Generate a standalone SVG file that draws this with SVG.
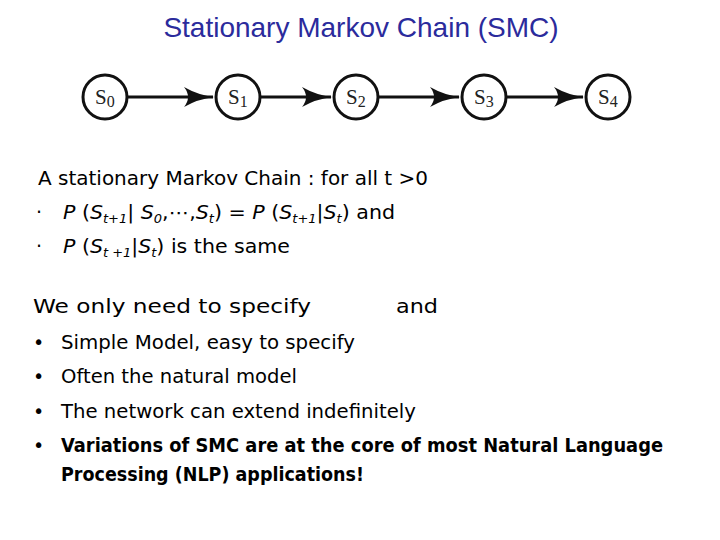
<svg xmlns="http://www.w3.org/2000/svg" width="720" height="540" viewBox="0 0 720 540">
<style>
.n{fill:#fff;stroke:#111;stroke-width:3}
.nl{font-family:"Liberation Serif",serif;font-size:21px;fill:#222}
.e{stroke:#111;stroke-width:3}
.t{font-family:"DejaVu Sans",sans-serif;font-size:19px;fill:#000}
.i{font-style:italic}
</style>
<defs><marker id="a" viewBox="0 0 30 20" refX="29" refY="10" markerWidth="30" markerHeight="20" markerUnits="userSpaceOnUse" orient="auto"><path d="M0,0 Q14,8 30,10 Q14,12 0,20 Q8,10 0,0 Z" fill="#111"/></marker></defs>
<rect width="720" height="540" fill="#fff"/>
<text x="361" y="37" text-anchor="middle" font-family="Liberation Sans,sans-serif" font-size="28" fill="#2b2b9c">Stationary Markov Chain (SMC)</text>
<g id="edges">
<line class="e" x1="127" y1="97" x2="213" y2="97" marker-end="url(#a)"/>
<line class="e" x1="260" y1="97" x2="331" y2="97" marker-end="url(#a)"/>
<line class="e" x1="378" y1="97" x2="459" y2="97" marker-end="url(#a)"/>
<line class="e" x1="506" y1="97" x2="583" y2="97" marker-end="url(#a)"/>
</g>
<g id="s0"><circle class="n" cx="105" cy="97" r="22"/><text class="nl" x="95" y="104">S<tspan font-size="16" dy="3">0</tspan></text></g>
<g id="s1"><circle class="n" cx="238" cy="97" r="22"/><text class="nl" x="228" y="104">S<tspan font-size="16" dy="3">1</tspan></text></g>
<g id="s2"><circle class="n" cx="356" cy="97" r="22"/><text class="nl" x="346" y="104">S<tspan font-size="16" dy="3">2</tspan></text></g>
<g id="s3"><circle class="n" cx="484" cy="97" r="22"/><text class="nl" x="474" y="104">S<tspan font-size="16" dy="3">3</tspan></text></g>
<g id="s4"><circle class="n" cx="608" cy="97" r="22"/><text class="nl" x="598" y="104">S<tspan font-size="16" dy="3">4</tspan></text></g>
<text class="t" x="38" y="185" textLength="390" lengthAdjust="spacingAndGlyphs">A stationary Markov Chain : for all t &gt;0</text>
<text class="t" x="36" y="219">·</text>
<text class="t" x="63" y="219" textLength="332" lengthAdjust="spacingAndGlyphs"><tspan class="i">P</tspan> (<tspan class="i">S<tspan font-size="12" dy="4">t+1</tspan></tspan><tspan dy="-4">| </tspan><tspan class="i">S<tspan font-size="12" dy="4">0</tspan></tspan><tspan dy="-4">,⋯,</tspan><tspan class="i">S<tspan font-size="12" dy="4">t</tspan></tspan><tspan dy="-4">) = </tspan><tspan class="i">P</tspan> (<tspan class="i">S<tspan font-size="12" dy="4">t+1</tspan></tspan><tspan dy="-4">|</tspan><tspan class="i">S<tspan font-size="12" dy="4">t</tspan></tspan><tspan dy="-4">) and</tspan></text>
<text class="t" x="36" y="253">·</text>
<text class="t" x="63" y="253" textLength="227" lengthAdjust="spacingAndGlyphs"><tspan class="i">P</tspan> (<tspan class="i">S<tspan font-size="12" dy="4">t +1</tspan></tspan><tspan dy="-4">|</tspan><tspan class="i">S<tspan font-size="12" dy="4">t</tspan></tspan><tspan dy="-4">) is the same</tspan></text>
<text class="t" x="33" y="313" font-size="22" textLength="278" lengthAdjust="spacingAndGlyphs">We only need to specify</text>
<text class="t" x="396" y="313" font-size="22" textLength="42" lengthAdjust="spacingAndGlyphs">and</text>
<text class="t" x="33" y="349">•</text><text class="t" x="61" y="349" textLength="294" lengthAdjust="spacingAndGlyphs">Simple Model, easy to specify</text>
<text class="t" x="33" y="383">•</text><text class="t" x="61" y="383" textLength="236" lengthAdjust="spacingAndGlyphs">Often the natural model</text>
<text class="t" x="33" y="418">•</text><text class="t" x="61" y="418" textLength="355" lengthAdjust="spacingAndGlyphs">The network can extend indefinitely</text>
<text class="t" x="33" y="452">•</text><text class="t" x="61" y="452" font-weight="bold" textLength="602" lengthAdjust="spacingAndGlyphs">Variations of SMC are at the core of most Natural Language</text>
<text class="t" x="61" y="481" font-weight="bold" textLength="303" lengthAdjust="spacingAndGlyphs">Processing (NLP) applications!</text>
</svg>
